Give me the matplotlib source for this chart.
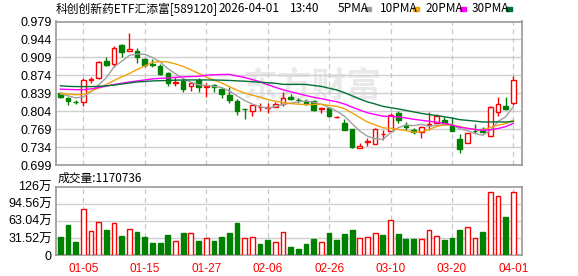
import numpy as np
import pandas as pd
import matplotlib
matplotlib.use("Agg")
import matplotlib.pyplot as plt
from matplotlib.patches import Rectangle

# ---- data ----
dates = ["01-05", "01-15", "01-27", "02-06", "02-26", "03-10", "03-20", "04-01"]
date_idx = [3, 11, 19, 27, 35, 43, 51, 59]

opens = [0.840, 0.830, 0.8225, 0.8215, 0.865, 0.8682, 0.902, 0.8954, 0.933, 0.9207,
         0.9207, 0.905, 0.896, 0.8928, 0.8792, 0.8595, 0.8636, 0.8533, 0.865, 0.851,
         0.8552, 0.8474, 0.8358, 0.8248, 0.8085, 0.8034, 0.8115, 0.8105, 0.8131, 0.8176,
         0.8325, 0.8262, 0.8247, 0.8241, 0.8085, 0.8098, 0.792, 0.7807, 0.7697, 0.7321,
         0.7445, 0.7399, 0.759, 0.7651, 0.8001, 0.7775, 0.7677, 0.7625, 0.7765, 0.7817,
         0.7869, 0.7765, 0.7492, 0.7427, 0.7655, 0.7687, 0.755, 0.8031, 0.8142, 0.8194]
highs = [0.842, 0.8325, 0.826, 0.8695, 0.871, 0.902, 0.909, 0.9317, 0.935, 0.9557,
         0.927, 0.9077, 0.906, 0.8954, 0.881, 0.8714, 0.8682, 0.8605, 0.8682, 0.8596,
         0.8572, 0.8494, 0.8507, 0.8274, 0.8085, 0.8165, 0.8196, 0.8209, 0.8215, 0.8416,
         0.8377, 0.8306, 0.8273, 0.826, 0.8131, 0.8131, 0.7944, 0.7885, 0.770, 0.7418,
         0.7515, 0.771, 0.7664, 0.8001, 0.8034, 0.782, 0.771, 0.7755, 0.8018, 0.7986,
         0.7934, 0.7934, 0.7596, 0.7622, 0.7783, 0.774, 0.8142, 0.8311, 0.8311, 0.8734]
lows = [0.830, 0.8157, 0.818, 0.815, 0.8585, 0.867, 0.893, 0.891, 0.910, 0.9207,
        0.8973, 0.8896, 0.8896, 0.8747, 0.8533, 0.8533, 0.8416, 0.8436, 0.8423, 0.8311,
        0.8416, 0.8306, 0.8209, 0.797, 0.7893, 0.7937, 0.8053, 0.8014, 0.8125, 0.8144,
        0.826, 0.8209, 0.817, 0.8034, 0.8014, 0.7924, 0.791, 0.7664, 0.733, 0.7321,
        0.7366, 0.7399, 0.747, 0.7651, 0.7807, 0.7677, 0.760, 0.7515, 0.7673, 0.7804,
        0.7772, 0.7655, 0.7232, 0.7427, 0.762, 0.7622, 0.755, 0.7953, 0.8064, 0.8162]
closes = [0.8326, 0.8248, 0.822, 0.865, 0.866, 0.8993, 0.8948, 0.9265, 0.920, 0.9246,
          0.9103, 0.894, 0.895, 0.8766, 0.8598, 0.860, 0.8474, 0.8598, 0.8507, 0.853,
          0.8507, 0.837, 0.826, 0.8034, 0.8075, 0.8157, 0.812, 0.8112, 0.8176, 0.8293,
          0.8286, 0.8258, 0.8176, 0.8066, 0.8095, 0.795, 0.7925, 0.7677, 0.7334, 0.7366,
          0.7455, 0.769, 0.760, 0.7969, 0.7872, 0.7723, 0.7625, 0.7729, 0.7791, 0.7947,
          0.7791, 0.7655, 0.7297, 0.7622, 0.7645, 0.7635, 0.8116, 0.818, 0.8077, 0.8649]

# volume in units of 10k shares
volume = [33.8, 55.3, 24.6, 84.8, 44.3, 60.2, 46.1, 58.4, 35.0, 47.3,
          42.4, 33.8, 22.1, 22.1, 36.9, 25.2, 40.6, 40.0, 25.8, 30.7,
          25.8, 33.8, 40.6, 59.0, 30.7, 33.2, 20.3, 27.7, 23.4, 41.8,
          15.4, 11.1, 20.3, 29.5, 23.4, 40.6, 27.7, 38.7, 46.1, 30.7,
          33.2, 40.0, 36.9, 63.9, 38.7, 29.5, 29.5, 29.5, 45.5, 35.0,
          27.7, 31.3, 46.1, 51.6, 31.3, 42.4, 115.5, 108.2, 70.1, 117.0736]
vol_up = "GGGRRRGRGRGGGGGRGRGRGGGGRRGGRRGGGGRGGGGRRRGRGGGRRRGGGRRGRRGR"

# moving-average values before each window fills
ma5_head = [0.838, 0.834, 0.830, 0.832]
ma10_head = [0.8385, 0.8375, 0.836, 0.837, 0.843, 0.849, 0.856, 0.864, 0.871]
ma20_head = [0.847, 0.8465, 0.846, 0.846, 0.8475, 0.850, 0.853, 0.856, 0.8585, 0.861,
             0.863, 0.865, 0.867, 0.868, 0.869, 0.870, 0.871, 0.8715, 0.872]
ma30_head = [0.8537, 0.8525, 0.852, 0.852, 0.852, 0.8525, 0.8535, 0.855, 0.857, 0.859,
             0.861, 0.862, 0.863, 0.8635, 0.864, 0.8645, 0.8648, 0.865, 0.865, 0.865,
             0.8648, 0.8645, 0.864, 0.8632, 0.8625, 0.8615, 0.8605, 0.8595, 0.8585]

RED = "#ff0000"
GREEN = "#008000"
ma_colors = {5: "#a0a0a0", 10: "#f0a30a", 20: "#ff00ff", 30: "#007035"}
heads = {5: ma5_head, 10: ma10_head, 20: ma20_head, 30: ma30_head}

df = pd.DataFrame({"open": opens, "high": highs, "low": lows, "close": closes, "vol": volume})
x = np.arange(len(df))
for n in (5, 10, 20, 30):
    ma = df["close"].rolling(n).mean().to_numpy()
    ma[:n - 1] = heads[n]
    df["ma%d" % n] = ma

W, H = 578, 276
fig = plt.figure(figsize=(W / 100, H / 100), dpi=100)

def fx(px):
    return px / W

def fy(py):
    return 1 - py / H

L, R = 56, 522.3
ax = fig.add_axes([fx(L), fy(165), fx(R) - fx(L), fy(21.5) - fy(165)])
axv = fig.add_axes([fx(L), fy(255), fx(R) - fx(L), fy(186.7) - fy(255)])

num_font = ["Liberation Sans", "Noto Sans CJK SC"]
cjk_font = ["Noto Sans CJK SC", "DejaVu Sans"]

# ---- candles ----
up = df["close"] >= df["open"]
col = np.where(up, RED, GREEN)
ax.vlines(x, df["low"], df["high"], colors=col, lw=1.0, zorder=3)
body_lo = np.minimum(df["open"], df["close"])
body_h = np.maximum(np.abs(df["close"] - df["open"]), 0.0004)
ax.bar(x, body_h, bottom=body_lo, width=0.6, color=np.where(up, "white", GREEN),
       edgecolor=col, linewidth=1.0, zorder=4)

for n in (5, 10, 20, 30):
    ax.plot(x, df["ma%d" % n], color=ma_colors[n], lw=1.0, zorder=5)

ax.text(0.55, 0.55, "东方财富", transform=ax.transAxes, fontsize=25, color="#e9e9e9",
        family=cjk_font, ha="center", va="center", zorder=0.5, fontweight="bold")

xlim = (-0.56, 60.16)
yt = [0.699 + 0.035 * k for k in range(9)]
ax.set_xlim(*xlim)
ax.set_ylim(0.699, 0.979)
ax.set_yticks(yt)
ax.set_yticklabels(["%.3f" % v for v in yt], family=num_font, fontsize=9)
ax.set_xticks([])
for v in yt[1:-1]:
    ax.axhline(v, color="#d0d0d0", lw=1.0, zorder=1)
for i in date_idx:
    ax.axvline(i, color="#c8c8c8", lw=0.9, ls=(0, (4, 3)), zorder=1)

# ---- volume ----
vcol = [RED if c == "R" else GREEN for c in vol_up]
vface = ["white" if c == "R" else GREEN for c in vol_up]
axv.bar(x, df["vol"], width=0.62, color=vface, edgecolor=vcol, linewidth=1.0, zorder=3)
vt = [0, 31.52, 63.04, 94.56, 126.08]
axv.set_xlim(*xlim)
axv.set_ylim(0, 126.08)
axv.set_yticks(vt)
axv.set_yticklabels(["0", "31.52万", "63.04万", "94.56万", "126万"], family=num_font, fontsize=9)
for v in vt[1:-1]:
    axv.axhline(v, color="#d0d0d0", lw=1.0, zorder=1)
for i in date_idx:
    axv.axvline(i, color="#c8c8c8", lw=0.9, ls=(0, (4, 3)), zorder=1)
axv.set_xticks(date_idx)
axv.set_xticklabels(dates, color=RED, family=num_font, fontsize=8.5)

for a in (ax, axv):
    a.tick_params(length=0, pad=3)
    for s in a.spines.values():
        s.set_color("#999999")
        s.set_linewidth(1.2)
axv.tick_params(axis="x", pad=6)

# ---- header texts ----
fig.text(fx(56), fy(9), "科创创新药ETF汇添富[589120]", family=cjk_font, fontsize=8.5, va="center")
fig.text(fx(218), fy(9), "2026-04-01", family=cjk_font, fontsize=8.5, va="center")
fig.text(fx(290), fy(9), "13:40", family=cjk_font, fontsize=8.5, va="center")
legend = [("5PMA", 338, 365, 5), ("10PMA", 380, 413, 10), ("20PMA", 425, 460, 20), ("30PMA", 472, 506, 30)]
for label, tx, rx, n in legend:
    fig.text(fx(tx), fy(9), label, family=cjk_font, fontsize=8.5, va="center")
    fig.patches.append(Rectangle((fx(rx), fy(11)), 6 / W, 4 / H, transform=fig.transFigure,
                                 color=ma_colors[n]))
fig.text(fx(58), fy(178), "成交量:1170736", family=cjk_font, fontsize=8.5, va="center")

fig.savefig("out.png", dpi=100)
